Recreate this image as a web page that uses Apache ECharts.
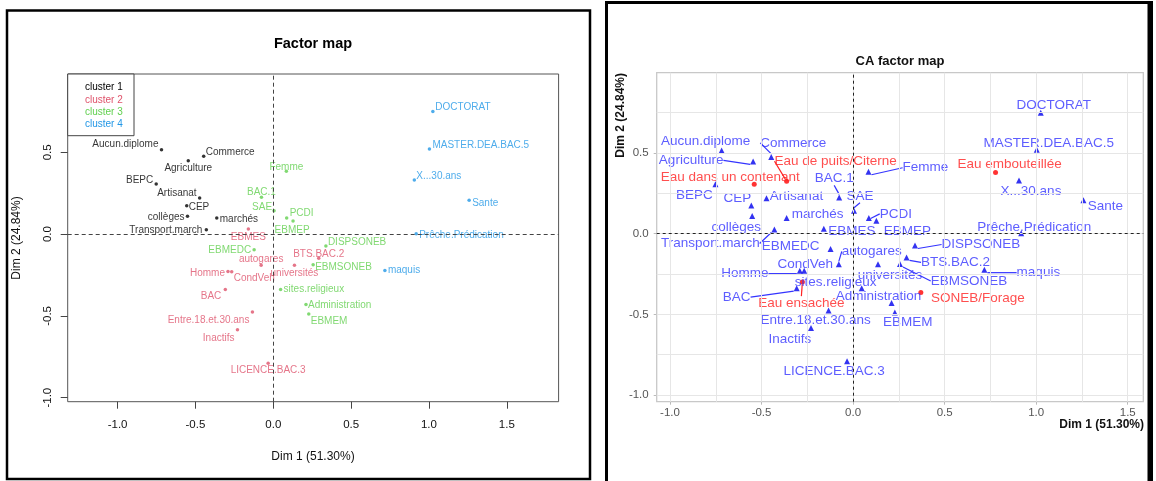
<!DOCTYPE html>
<html><head><meta charset="utf-8">
<script src="https://cdn.jsdelivr.net/npm/echarts@6/dist/echarts.min.js"></script>
<style>html,body{margin:0;padding:0;background:#fff}#c{width:1156px;height:481px}</style>
</head><body><div id="c"></div>
<script>
// ---------------- DATA ----------------
const modalities = ['Aucun.diplome','Commerce','Agriculture','BEPC','Artisanat','CEP','collèges','marchés','Transport.march',
  'EBMES','autogares','Homme','CondVeh','BAC','Entre.18.et.30.ans','Inactifs','LICENCE.BAC.3','BTS.BAC.2','universités',
  'Femme','BAC.1','SAE','PCDI','EBMEP','DISPSONEB','EBMEDC','EBMSONEB','sites.religieux','Administration','EBMEM',
  'DOCTORAT','MASTER.DEA.BAC.5','X...30.ans','Sante','Prêche.Prédication','maquis'];
const dim1 = [-0.718,-0.447,-0.546,-0.752,-0.473,-0.556,-0.551,-0.363,-0.430,
  -0.160,-0.078,-0.291,-0.267,-0.308,-0.134,-0.230,-0.033,0.292,0.136,
  0.084,-0.076,0.005,0.086,0.127,0.338,-0.123,0.256,0.047,0.210,0.228,
  1.025,1.003,0.906,1.258,0.918,0.717];
const dim2 = [0.515,0.476,0.448,0.306,0.220,0.174,0.109,0.098,0.026,
  0.031,-0.190,-0.229,-0.230,-0.338,-0.476,-0.585,-0.790,-0.147,-0.190,
  0.384,0.225,0.142,0.098,0.080,-0.073,-0.095,-0.188,-0.338,-0.430,-0.489,
  0.750,0.520,0.330,0.207,0.002,-0.223];
const clusterOf = [1,1,1,1,1,1,1,1,1, 2,2,2,2,2,2,2,2,2,2, 3,3,3,3,3,3,3,3,3,3,3, 4,4,4,4,4,4];
const clusterNames = ['cluster 1','cluster 2','cluster 3','cluster 4'];
const waterTypes = ['Eau dans un contenant','Eau de puits/Citerne','Eau embouteillée','Eau ensachée','SONEB/Forage'];
const waterDim1 = [-0.540,-0.363,0.778,-0.277,0.370];
const waterDim2 = [0.306,0.325,0.379,-0.300,-0.364];
const xTickValues = [-1.0,-0.5,0.0,0.5,1.0,1.5];
const yTickValues = [-1.0,-0.5,0.0,0.5];
const gridLineX = [-1.0,-0.75,-0.5,-0.25,0.0,0.25,0.5,0.75,1.0,1.25,1.5];
const gridLineY = [-1.0,-0.75,-0.5,-0.25,0.0,0.25,0.5,0.75];

// ---------------- STYLE / LAYOUT ----------------
const FONT = 'Liberation Sans, Arial, sans-serif';
const clusterColors = ['#000000','#DF536B','#61D04F','#2297E6'];
// left panel label anchors: [align, dx, dy]
const leftLabelPos = {
  'Aucun.diplome':['right',-3,-6],'Commerce':['left',2,-4],'Agriculture':['center',0,7],'BEPC':['right',-3,-4],
  'Artisanat':['right',-3,-5],'CEP':['left',2,2],'collèges':['right',-3,1],'marchés':['left',3,1],
  'Transport.march':['right',-4,0],'DOCTORAT':['left',2.5,-4],'MASTER.DEA.BAC.5':['left',3,-4],'X...30.ans':['left',2,-4],
  'Sante':['left',3,3],'Prêche.Prédication':['left',3,1],'maquis':['left',3,0],'Femme':['center',0,-4],
  'BAC.1':['center',0,-5],'SAE':['right',-2,-4],'PCDI':['left',3,-5],'EBMEP':['center',-1,9],
  'DISPSONEB':['left',2,-4],'EBMEDC':['right',-3,1],'autogares':['center',0,-6],'EBMES':['center',0,8],
  'BTS.BAC.2':['center',0,-4],'EBMSONEB':['left',2,2],'universités':['center',0,8],'Homme':['right',-3,2],
  'CondVeh':['left',2,7],'sites.religieux':['left',3,0],'Administration':['left',2,1],'EBMEM':['left',2,7],
  'BAC':['right',-4,7],'Entre.18.et.30.ans':['right',-3,8],'Inactifs':['right',-3,8],'LICENCE.BAC.3':['center',0,7]
};
// right panel label centres: [dx, dy, leaderLine]
const rightLabelPos = {
  'DOCTORAT':[13,-7,0],'MASTER.DEA.BAC.5':[12,-7,0],'X...30.ans':[12,11,0],'Sante':[22,6,0],
  'Prêche.Prédication':[13,-6,0],'maquis':[54,3,1],'Eau embouteillée':[14,-8,0],'SONEB/Forage':[57,6,0],
  'DISPSONEB':[66,-1,1],'BTS.BAC.2':[49,5,1],'EBMSONEB':[69,17,1],'universités':[12,11,0],'EBMEM':[13,10,0],
  'Administration':[-13,-7,0],'sites.religieux':[-26,-6,0],'LICENCE.BAC.3':[-13,10,0],'Inactifs':[-21,11,0],
  'Entre.18.et.30.ans':[-13,10,0],'BAC':[-60,9,1],'Eau ensachée':[-1,21,1],'Homme':[-55,3,1],'CondVeh':[1,-7,0],
  'autogares':[33,-13,1],'EBMEDC':[-40,-3,0],'Transport.march':[-64,14,1],'EBMES':[28,3,0],'EBMEP':[31,10,0],
  'PCDI':[27,-4,1],'SAE':[6,-15,1],'BAC.1':[-5,-19,1],'Femme':[57,-4,1],'Eau de puits/Citerne':[49,-20,1],
  'Eau dans un contenant':[-24,-7,0],'marchés':[31,-4,0],'Artisanat':[30,-2,0],'CEP':[-14,-7,0],
  'collèges':[-16,11,0],'BEPC':[-21,11,0],'Agriculture':[-62,-1,1],'Aucun.diplome':[-16,-9,0],'Commerce':[22,-14,1]
};

const fmt = v => v.toFixed(1);
const chart = echarts.init(document.getElementById('c'), null, {renderer:'canvas'});

// left cluster series
const leftSeries = clusterNames.map((cn, k) => {
  const data = [];
  modalities.forEach((m, i) => { if (clusterOf[i] === k + 1) data.push({name: m, value: [dim1[i], dim2[i]]}); });
  return {
    type:'scatter', name: cn, xAxisIndex:0, yAxisIndex:0, data, symbol:'circle', symbolSize:3.5,
    itemStyle:{color: clusterColors[k]}, z:3,
    label:{show:true, position:'inside', formatter:'{b}', color: clusterColors[k], fontSize:10, fontFamily:FONT, textBorderWidth:0},
    labelLayout: function (p) {
      const c = leftLabelPos[p.text];
      if (!c) return {};
      return {align: c[0], verticalAlign:'middle', dx: c[1], dy: c[2]};
    },
    emphasis:{disabled:true}
  };
});

const rightLayout = function (p) {
  const c = rightLabelPos[p.text];
  if (!c) return {};
  return {align:'center', verticalAlign:'middle', dx: c[0], dy: c[1]};
};
const rowData = modalities.map((m, i) => ({name:m, value:[dim1[i], dim2[i]],
  labelLine:{show: !!(rightLabelPos[m] && rightLabelPos[m][2])}}));
const waterData = waterTypes.map((m, i) => ({name:m, value:[waterDim1[i], waterDim2[i]],
  labelLine:{show: !!(rightLabelPos[m] && rightLabelPos[m][2])}}));

const option = {
  animation:false,
  backgroundColor:'#ffffff',
  textStyle:{fontFamily:FONT},
  grid:[
    {left:67.7, top:74, width:490.9, height:327.7, show:true, borderColor:'#555', borderWidth:1, backgroundColor:'transparent', outerBoundsMode:'none', containLabel:false},
    {left:656.7, top:72.7, width:486.6, height:329, show:true, borderColor:'#c8c8c8', borderWidth:1.3, backgroundColor:'transparent', outerBoundsMode:'none', containLabel:false}
  ],
  xAxis:[
    {gridIndex:0, type:'value', position:'bottom', min:-1.3205, max:1.8327,
     axisLine:{show:false, onZero:false},
     axisTick:{show:true, length:7, customValues:xTickValues, lineStyle:{color:'#444'}},
     axisLabel:{customValues:xTickValues, formatter:fmt, margin:17, fontSize:11.5, color:'#111', fontFamily:FONT},
     splitLine:{show:false}},
    {gridIndex:1, type:'value', position:'bottom', min:-1.0727, max:1.585,
     axisLine:{show:false, onZero:false},
     axisTick:{show:true, length:3, customValues:xTickValues, lineStyle:{color:'#bbb'}},
     axisLabel:{customValues:xTickValues, formatter:fmt, margin:5, fontSize:11.5, color:'#555', fontFamily:FONT},
     splitLine:{show:false}}
  ],
  yAxis:[
    {gridIndex:0, type:'value', position:'left', min:-1.0245, max:0.9786,
     axisLine:{show:false, onZero:false},
     axisTick:{show:true, length:7, customValues:yTickValues, lineStyle:{color:'#444'}},
     axisLabel:{customValues:yTickValues, formatter:fmt, rotate:90, margin:14, fontSize:11.5, color:'#111', fontFamily:FONT},
     splitLine:{show:false}},
    {gridIndex:1, type:'value', position:'left', min:-1.0415, max:0.998,
     axisLine:{show:false, onZero:false},
     axisTick:{show:true, length:3, customValues:yTickValues, lineStyle:{color:'#bbb'}},
     axisLabel:{customValues:yTickValues, formatter:fmt, margin:8, fontSize:11.5, color:'#555', fontFamily:FONT},
     splitLine:{show:false}}
  ],
  series:[
    ...leftSeries,
    {type:'line', xAxisIndex:0, yAxisIndex:0, data:[], z:2, silent:true,
     markLine:{silent:true, symbol:'none', label:{show:false}, animation:false,
       lineStyle:{color:'#444', width:1, type:[4,3]},
       data:[{xAxis:0},{yAxis:0}]}},
    {type:'line', xAxisIndex:1, yAxisIndex:1, data:[], z:1, silent:true,
     markLine:{silent:true, symbol:'none', label:{show:false}, animation:false,
       lineStyle:{color:'#e6e6e6', width:1, type:'solid'},
       data: gridLineX.map(v => ({xAxis:v})).concat(gridLineY.map(v => ({yAxis:v})))}},
    {type:'line', xAxisIndex:1, yAxisIndex:1, data:[], z:2, silent:true,
     markLine:{silent:true, symbol:'none', label:{show:false}, animation:false,
       lineStyle:{color:'#222', width:1, type:[3,3]},
       data:[{xAxis:0},{yAxis:0}]}},
    {type:'scatter', name:'modalités', xAxisIndex:1, yAxisIndex:1, data:rowData, symbol:'triangle', symbolSize:6,
     itemStyle:{color:'#0000ee'}, z:4, emphasis:{disabled:true},
     label:{show:true, position:'inside', formatter:'{b}', color:'#3434ff', fontSize:13.5, fontFamily:FONT, textBorderWidth:0},
     labelLine:{show:false, lineStyle:{color:'#3434ff', width:1.2}},
     labelLayout: rightLayout},
    {type:'scatter', name:'eau', xAxisIndex:1, yAxisIndex:1, data:waterData, symbol:'circle', symbolSize:5,
     itemStyle:{color:'#ff0000'}, z:4, emphasis:{disabled:true},
     label:{show:true, position:'inside', formatter:'{b}', color:'#ff2222', fontSize:13.5, fontFamily:FONT, textBorderWidth:0},
     labelLine:{show:false, lineStyle:{color:'#ff2222', width:1.2}},
     labelLayout: rightLayout}
  ],
  graphic:[
    // frames
    {type:'rect', shape:{x:7, y:10.5, width:583, height:468.5}, style:{fill:'none', stroke:'#000', lineWidth:2.5}, silent:true},
    {type:'line', shape:{x1:606.5, y1:1, x2:606.5, y2:481}, style:{stroke:'#000', lineWidth:3}, silent:true},
    {type:'line', shape:{x1:605, y1:2.5, x2:1153, y2:2.5}, style:{stroke:'#000', lineWidth:3}, silent:true},
    {type:'rect', shape:{x:1147.5, y:1, width:5.5, height:480}, style:{fill:'#000'}, silent:true},
    // left legend box
    {type:'rect', shape:{x:67.7, y:74, width:66.3, height:61.7}, style:{fill:'#fff', stroke:'#444', lineWidth:1}, silent:true, z:10},
    ...clusterNames.map((cn, k) => ({type:'text', x:85, y:87.7 + k*12.2, z:11, silent:true,
      style:{text:cn, fill:clusterColors[k], font:'10px ' + FONT, textAlign:'left', textVerticalAlign:'middle'}})),
    // left titles
    {type:'text', x:313, y:43.5, silent:true, style:{text:'Factor map', fill:'#000', font:'bold 14.5px ' + FONT, textAlign:'center', textVerticalAlign:'middle'}},
    {type:'text', x:313, y:456.7, silent:true, style:{text:'Dim 1 (51.30%)', fill:'#111', font:'12px ' + FONT, textAlign:'center', textVerticalAlign:'middle'}},
    {type:'text', x:16.6, y:238, rotation:Math.PI/2, silent:true, style:{text:'Dim 2 (24.84%)', fill:'#111', font:'12px ' + FONT, textAlign:'center', textVerticalAlign:'middle'}},
    // right titles
    {type:'text', x:900, y:61, silent:true, style:{text:'CA factor map', fill:'#111', font:'bold 13px ' + FONT, textAlign:'center', textVerticalAlign:'middle'}},
    {type:'text', x:1144, y:425, silent:true, style:{text:'Dim 1 (51.30%)', fill:'#111', font:'bold 12px ' + FONT, textAlign:'right', textVerticalAlign:'middle'}},
    {type:'text', x:621, y:73, rotation:Math.PI/2, silent:true, style:{text:'Dim 2 (24.84%)', fill:'#111', font:'bold 12px ' + FONT, textAlign:'right', textVerticalAlign:'middle'}}
  ]
};
chart.setOption(option);
</script></body></html>
